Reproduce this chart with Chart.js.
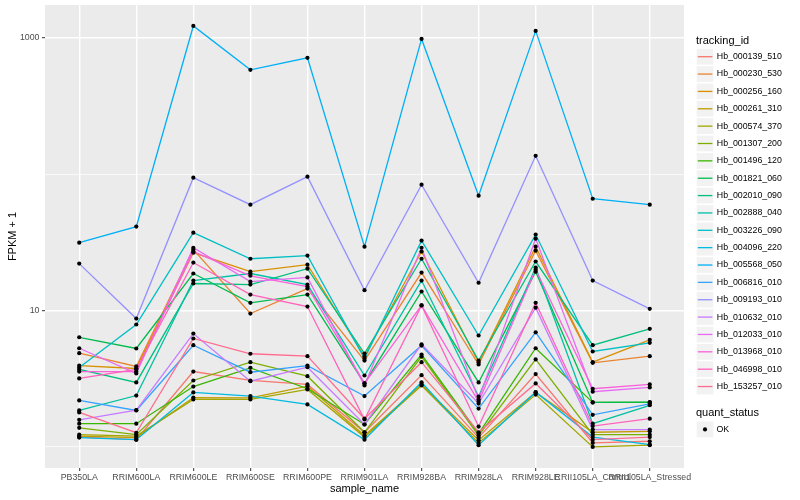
<!DOCTYPE html>
<html>
<head>
<meta charset="utf-8">
<script src="https://cdn.jsdelivr.net/npm/chart.js@4.4.1/dist/chart.umd.min.js"></script>
<style>
  html, body { margin: 0; padding: 0; background: #fff; }
  #wrap { width: 800px; height: 500px; position: relative; }
</style>
</head>
<body>
<div id="wrap"><canvas id="chart"></canvas></div>
<script>
const FONT = '"Liberation Sans", Arial, Helvetica, sans-serif';

// categories
const sampleNames = ['PB350LA', 'RRIM600LA', 'RRIM600LE', 'RRIM600SE', 'RRIM600PE', 'RRIM901LA',
  'RRIM928BA', 'RRIM928LA', 'RRIM928LE', 'RRII105LA_Control', 'RRII105LA_Stressed'];

// y axis: grid values and labelled values
const yGridValues = [1, 10, 100, 1000];
const yLabelValues = [10, 1000];

// FPKM + 1 per tracking id, in sample order
const hb_000139_510 = [1.18, 1.13, 3.57, 3.07, 2.87, 1.28, 3.36, 1.17, 3.42, 1.07, 1.10];
const hb_000230_530 = [4.87, 3.89, 28.0, 9.51, 14.5, 4.30, 19.0, 4.02, 27.5, 4.14, 4.63];
const hb_000256_160 = [3.95, 3.76, 26.6, 19.3, 21.7, 4.60, 27.1, 4.16, 29.4, 4.18, 6.10];
const hb_000261_310 = [1.20, 1.17, 2.30, 2.29, 2.79, 1.21, 2.87, 1.12, 2.51, 1.28, 1.30];
const hb_000574_370 = [1.23, 1.20, 2.23, 2.23, 2.64, 1.18, 2.82, 1.07, 2.42, 1.00, 1.03];
const hb_001307_200 = [1.38, 1.23, 3.07, 4.18, 3.30, 1.28, 4.60, 1.21, 4.38, 1.23, 1.23];
const hb_001496_120 = [1.48, 1.48, 2.77, 3.80, 2.67, 1.46, 4.76, 1.25, 5.29, 2.12, 2.12];
const hb_001821_060 = [6.37, 5.27, 18.7, 11.4, 13.1, 2.92, 13.8, 2.97, 19.3, 2.12, 2.13];
const hb_002010_090 = [3.70, 2.97, 15.8, 15.5, 20.3, 4.84, 24.0, 4.30, 22.9, 5.57, 7.34];
const hb_002888_040 = [1.85, 2.38, 16.6, 18.7, 15.5, 3.34, 16.6, 2.34, 20.7, 1.48, 2.02];
const hb_003226_090 = [3.82, 7.90, 37.3, 24.0, 25.3, 4.45, 32.6, 6.56, 36.1, 5.01, 5.80];
const hb_004096_220 = [1.17, 1.13, 2.51, 2.36, 2.05, 1.13, 2.98, 1.03, 2.52, 1.18, 1.04];
const hb_005568_050 = [31.5, 41.3, 1224, 583, 714, 29.4, 983, 69.6, 1126, 66.1, 59.8];
const hb_006816_010 = [2.19, 1.85, 5.57, 3.53, 3.95, 2.36, 5.54, 1.91, 6.93, 1.72, 2.07];
const hb_009193_010 = [22.1, 8.74, 94.3, 59.8, 95.9, 14.1, 83.8, 16.0, 136.6, 16.6, 10.3];
const hb_010632_010 = [1.58, 1.86, 6.78, 3.03, 3.84, 1.46, 5.66, 2.08, 10.5, 1.34, 1.34];
const hb_012033_010 = [5.29, 3.46, 28.9, 16.3, 17.5, 2.82, 28.9, 2.23, 33.7, 2.54, 2.73];
const hb_013968_010 = [3.57, 3.57, 27.1, 18.0, 15.0, 2.92, 10.9, 2.15, 20.0, 2.67, 2.87];
const hb_046998_010 = [3.18, 3.70, 22.5, 13.1, 10.7, 1.59, 10.9, 1.41, 11.4, 1.42, 1.61];
const hb_153257_010 = [1.79, 1.27, 6.24, 4.82, 4.63, 1.61, 4.18, 1.28, 2.92, 1.13, 1.18];

const trackingIds = ['Hb_000139_510', 'Hb_000230_530', 'Hb_000256_160', 'Hb_000261_310', 'Hb_000574_370',
  'Hb_001307_200', 'Hb_001496_120', 'Hb_001821_060', 'Hb_002010_090', 'Hb_002888_040',
  'Hb_003226_090', 'Hb_004096_220', 'Hb_005568_050', 'Hb_006816_010', 'Hb_009193_010',
  'Hb_010632_010', 'Hb_012033_010', 'Hb_013968_010', 'Hb_046998_010', 'Hb_153257_010'];
const series = [hb_000139_510, hb_000230_530, hb_000256_160, hb_000261_310, hb_000574_370,
  hb_001307_200, hb_001496_120, hb_001821_060, hb_002010_090, hb_002888_040,
  hb_003226_090, hb_004096_220, hb_005568_050, hb_006816_010, hb_009193_010,
  hb_010632_010, hb_012033_010, hb_013968_010, hb_046998_010, hb_153257_010];

// ggplot default hue palette, 20 levels
const hueColors = ['#F8766D', '#EA8331', '#D89000', '#C09B00', '#A3A500', '#7CAE00', '#39B600',
  '#00BB4E', '#00BF7D', '#00C1A3', '#00BFC4', '#00BAE0', '#00B0F6', '#35A2FF', '#9590FF',
  '#C77CFF', '#E76BF3', '#FA62DB', '#FF62BC', '#FF6C90'];

const panelBg = {
  id: 'panelBg',
  beforeDraw(chart) {
    const {ctx, chartArea: a} = chart;
    ctx.save();
    ctx.fillStyle = '#ffffff';
    ctx.fillRect(0, 0, chart.width, chart.height);
    ctx.fillStyle = '#EBEBEB';
    ctx.fillRect(a.left, a.top, a.right - a.left, a.bottom - a.top);
    ctx.restore();
  }
};

// axis titles and the two ggplot legends
const ggLegend = {
  id: 'ggLegend',
  afterDraw(chart) {
    const {ctx, chartArea: a} = chart;
    ctx.save();
    ctx.fillStyle = '#000';
    ctx.font = `11px ${FONT}`;
    ctx.textAlign = 'center';
    ctx.textBaseline = 'middle';
    ctx.fillText('sample_name', (a.left + a.right) / 2, 488.5);
    ctx.save();
    ctx.translate(12.5, (a.top + a.bottom) / 2);
    ctx.rotate(-Math.PI / 2);
    ctx.fillText('FPKM + 1', 0, 0);
    ctx.restore();

    ctx.textAlign = 'left';
    ctx.fillText('tracking_id', 696, 40.5);
    const pitch = 17.36;
    trackingIds.forEach((id, i) => {
      const cy = 56.7 + i * pitch;
      ctx.fillStyle = '#F2F2F2';
      ctx.fillRect(696.7, cy - 7.85, 16.6, 15.7);
      ctx.strokeStyle = hueColors[i];
      ctx.lineWidth = 1.3;
      ctx.beginPath();
      ctx.moveTo(697.8, cy);
      ctx.lineTo(712.4, cy);
      ctx.stroke();
      ctx.fillStyle = '#000';
      ctx.font = `8.8px ${FONT}`;
      ctx.fillText(id, 716.8, cy);
    });

    ctx.font = `11px ${FONT}`;
    ctx.fillText('quant_status', 696, 412.5);
    ctx.fillStyle = '#F2F2F2';
    ctx.fillRect(696.7, 421.6, 16.6, 15.7);
    ctx.fillStyle = '#000';
    ctx.beginPath();
    ctx.arc(705, 429.4, 2.1, 0, Math.PI * 2);
    ctx.fill();
    ctx.font = `8.8px ${FONT}`;
    ctx.fillText('OK', 716.5, 429.4);
    ctx.restore();
  }
};

const lineSets = trackingIds.map((id, i) => ({
  type: 'line',
  label: id,
  data: series[i].map((v, j) => ({x: j, y: v})),
  borderColor: hueColors[i],
  backgroundColor: hueColors[i],
  borderWidth: 1.3,
  pointRadius: 0,
  tension: 0,
  order: trackingIds.length - i,
}));

const pointSet = {
  type: 'scatter',
  label: 'OK',
  data: series.flatMap((s) => s.map((v, j) => ({x: j, y: v}))),
  backgroundColor: '#000000',
  borderWidth: 0,
  pointRadius: 2.1,
  order: 0,
};

const isLabelled = (c) => c.tick && yLabelValues.includes(c.tick.value);

new Chart(document.getElementById('chart'), {
  type: 'line',
  data: {datasets: [...lineSets, pointSet]},
  options: {
    responsive: true,
    maintainAspectRatio: false,
    animation: false,
    layout: {padding: {left: 0, right: 116, top: 5, bottom: 0}},
    plugins: {
      legend: {display: false},
      tooltip: {enabled: false},
    },
    scales: {
      x: {
        type: 'linear',
        min: -0.6,
        max: 10.6,
        afterBuildTicks: (s) => { s.ticks = sampleNames.map((_, i) => ({value: i})); },
        afterFit: (s) => { s.height = 32; s.paddingLeft = 0; s.paddingRight = 0; },
        border: {display: false},
        grid: {
          color: '#ffffff',
          lineWidth: 1.4,
          drawTicks: true,
          tickLength: 3,
          tickColor: '#333333',
          tickWidth: 1,
        },
        ticks: {
          autoSkip: false,
          maxRotation: 0,
          minRotation: 0,
          padding: 1,
          color: '#4D4D4D',
          font: {family: FONT, size: 8.8},
          callback: (v) => sampleNames[v],
        },
      },
      y: {
        type: 'logarithmic',
        min: 0.708,
        max: 1744,
        afterBuildTicks: (s) => { s.ticks = yGridValues.map((v) => ({value: v})); },
        afterFit: (s) => { s.width = 45; s.paddingTop = 0; s.paddingBottom = 0; },
        border: {display: false},
        grid: {
          color: '#ffffff',
          lineWidth: (c) => isLabelled(c) ? 1.4 : 0.7,
          drawTicks: true,
          tickLength: 3,
          tickColor: (c) => isLabelled(c) ? '#333333' : 'rgba(0,0,0,0)',
          tickWidth: 1,
        },
        ticks: {
          padding: 2.5,
          color: '#4D4D4D',
          font: {family: FONT, size: 8.8},
          callback: (v) => yLabelValues.includes(v) ? String(v) : '',
        },
      },
    },
  },
  plugins: [panelBg, ggLegend],
});
</script>
</body>
</html>
